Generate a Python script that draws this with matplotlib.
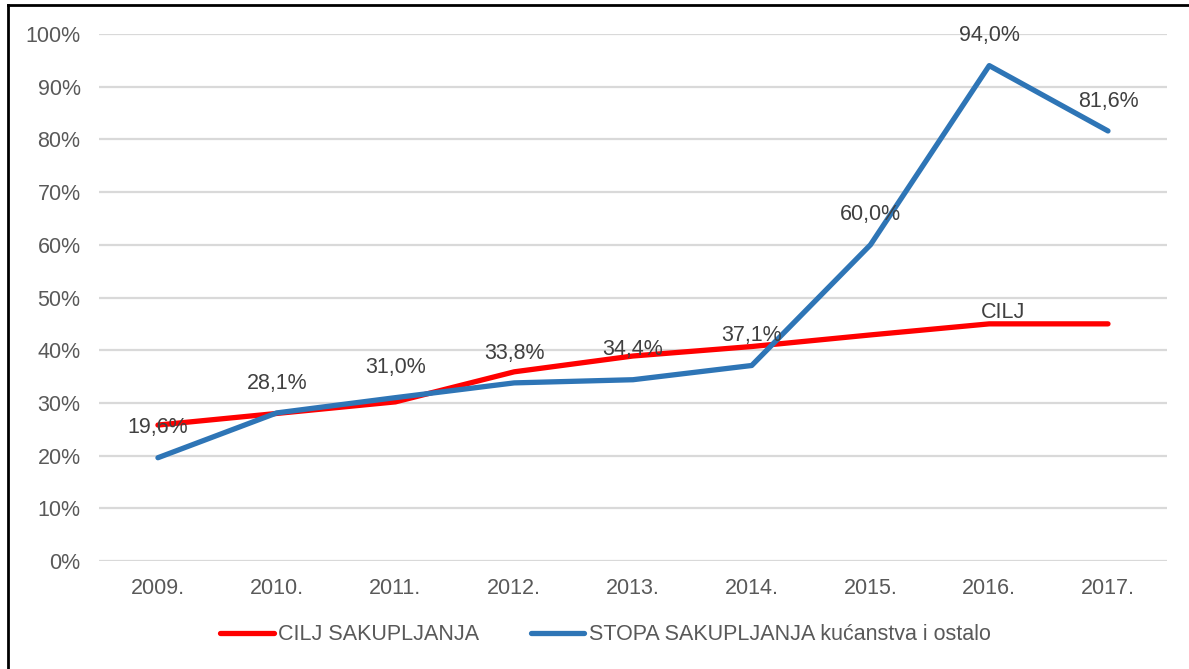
import matplotlib.pyplot as plt
from matplotlib.lines import Line2D

godine = ["2009.", "2010.", "2011.", "2012.", "2013.", "2014.", "2015.", "2016.", "2017."]
cilj = [25.8, 28.0, 30.2, 35.9, 38.9, 40.7, 42.9, 45.0, 45.0]
stopa = [19.6, 28.1, 31.0, 33.8, 34.4, 37.1, 60.0, 94.0, 81.6]

plt.rcParams['font.family'] = ['Liberation Sans', 'DejaVu Sans']

fig = plt.figure(figsize=(11.89, 6.69), dpi=100)
ax = fig.add_axes([0.0829, 0.1614, 0.8989, 0.7878])

x = list(range(len(godine)))
crvena = '#ff0000'
plava = '#2e75b6'
siva = '#595959'
tekst = '#404040'
vel = 15.5

ax.plot(x, cilj, color=crvena, lw=3.8, solid_capstyle='round', solid_joinstyle='round', zorder=3)
ax.plot(x, stopa, color=plava, lw=3.8, solid_capstyle='round', solid_joinstyle='round', zorder=4)

# oznake podataka iznad tocaka
for xi, v in zip(x, stopa):
    ax.annotate(f"{v:.1f}%".replace('.', ','), (xi, v), xytext=(0, 21.5),
                textcoords='offset points', ha='center', va='center',
                fontsize=vel, color=tekst, zorder=5)
ax.annotate("CILJ", (7, cilj[7]), xytext=(10, 8), textcoords='offset points',
            ha='center', va='center', fontsize=vel, color=tekst, zorder=5)

ax.set_xlim(-0.5, 8.5)
ax.set_ylim(0, 100)
ax.set_yticks(range(0, 101, 10))
ax.set_yticklabels([f"{t}%" for t in range(0, 101, 10)])
ax.set_xticks(x)
ax.set_xticklabels(godine)
ax.tick_params(length=0, labelsize=vel, labelcolor=siva)
ax.tick_params(axis='y', pad=13)
ax.tick_params(axis='x', pad=12)
ax.grid(axis='y', color='#d9d9d9', lw=1.6)
ax.set_axisbelow(True)
for s in ax.spines.values():
    s.set_visible(False)

handles = [Line2D([], [], color=crvena, lw=3.8, solid_capstyle='round'),
           Line2D([], [], color=plava, lw=3.8, solid_capstyle='round')]
fig.legend(handles, ["CILJ SAKUPLJANJA", "STOPA SAKUPLJANJA kućanstva i ostalo"],
           loc='center', bbox_to_anchor=(0.509, 1 - 635 / 669), ncol=2, frameon=False,
           fontsize=vel, labelcolor=siva, handlelength=2.5, handletextpad=0.2,
           columnspacing=2.4)

# okvir slike (lijevo i gore)
fig.add_artist(Line2D([8 / 1189, 8 / 1189], [0, 1 - 5 / 669], color='black', lw=2))
fig.add_artist(Line2D([8 / 1189, 1], [1 - 5 / 669, 1 - 5 / 669], color='black', lw=2))

fig.savefig("out.png", dpi=100)
